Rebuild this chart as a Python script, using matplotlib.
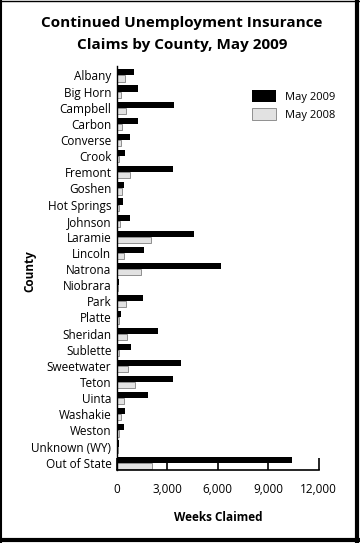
import matplotlib.pyplot as plt
import numpy as np
from matplotlib.lines import Line2D

plt.rcParams['font.family'] = ['Open Sans', 'DejaVu Sans']

counties = ['Albany', 'Big Horn', 'Campbell', 'Carbon', 'Converse', 'Crook',
            'Fremont', 'Goshen', 'Hot Springs', 'Johnson', 'Laramie', 'Lincoln',
            'Natrona', 'Niobrara', 'Park', 'Platte', 'Sheridan', 'Sublette',
            'Sweetwater', 'Teton', 'Uinta', 'Washakie', 'Weston',
            'Unknown (WY)', 'Out of State']
may2009 = [1040, 1240, 3400, 1260, 800, 500, 3360, 400, 340, 760, 4600, 1600,
           6200, 100, 1520, 260, 2440, 860, 3820, 3360, 1840, 500, 420, 100, 10400]
may2008 = [460, 240, 540, 300, 240, 140, 800, 300, 120, 160, 2040, 400,
           1440, 30, 520, 140, 580, 140, 640, 1080, 400, 240, 120, 30, 2080]
xticks = [0, 3000, 6000, 9000, 12000]
xtick_labels = ['0', '3,000', '6,000', '9,000', '12,000']

fig = plt.figure(figsize=(3.6, 5.43), dpi=100)
ax = fig.add_axes([0.325, 0.1344, 0.56, 0.7446])

y = np.arange(len(counties))
h = 0.38
ax.barh(y - h / 2, may2009, height=h, color='black', label='May 2009')
ax.barh(y + h / 2, may2008, height=h, color='#e2e2e2', edgecolor='#808080',
        linewidth=0.6, label='May 2008')

ax.set_ylim(len(counties) - 0.55, -0.6)
ax.set_xlim(0, 12000)
ax.set_yticks(y)
ax.set_yticklabels(counties, fontsize=8.5)
ax.tick_params(axis='y', length=0, pad=4)
ax.set_xticks(xticks)
ax.set_xticklabels(xtick_labels, fontsize=8.5)
ax.tick_params(axis='x', direction='in', length=9, width=1.2, pad=9)

for s in ['top', 'right']:
    ax.spines[s].set_visible(False)
ax.spines['left'].set_linewidth(1.0)
ax.spines['bottom'].set_linewidth(1.2)

ax.set_xlabel('Weeks Claimed', fontsize=8.5, fontweight='bold', labelpad=11)
fig.text(0.083, 0.5, 'County', rotation=90, fontsize=8.5, fontweight='bold',
         ha='center', va='center')

fig.text(0.505, 0.957, 'Continued Unemployment Insurance', ha='center', va='center',
         fontsize=11, fontweight='bold')
fig.text(0.505, 0.917, 'Claims by County, May 2009', ha='center', va='center',
         fontsize=11, fontweight='bold')

ax.legend(loc='upper left', bbox_to_anchor=(0.62, 0.965), frameon=False,
          fontsize=8, handlelength=2.2, handleheight=1.3, labelspacing=0.5)

# frame around the figure
fig.add_artist(Line2D([0.003, 0.003], [0, 1], color='black', lw=1.5, transform=fig.transFigure))
fig.add_artist(Line2D([0, 1], [0.999, 0.999], color='black', lw=1.0, transform=fig.transFigure))
fig.add_artist(Line2D([0.993, 0.993], [0, 1], color='black', lw=3, transform=fig.transFigure))
fig.add_artist(Line2D([0, 1], [0.005, 0.005], color='black', lw=3, transform=fig.transFigure))

fig.savefig('out.png', dpi=100)
